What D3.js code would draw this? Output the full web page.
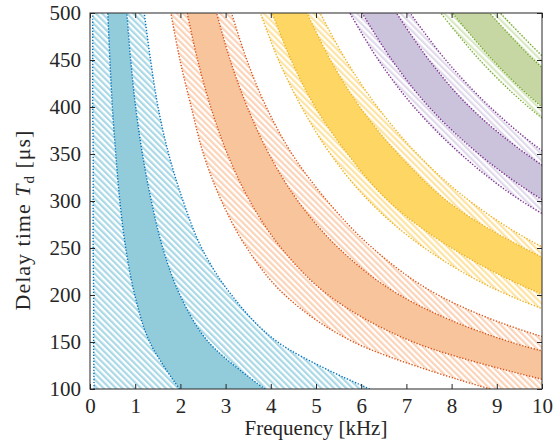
<!DOCTYPE html>
<html>
<head>
<meta charset="utf-8">
<script src="https://cdn.jsdelivr.net/npm/d3@7"></script>
<style>
  body { margin: 0; background: #fff; }
  svg text { font-family: "Liberation Serif", "DejaVu Serif", serif; fill: #262626; }
</style>
</head>
<body>
<div id="chart"></div>
<script>
const tdLevels = [100, 150, 200, 250, 300, 350, 400, 450, 500];

// each band: outer hatch edge, fill edge, fill edge, outer hatch edge (frequency in kHz per tdLevel)
const blueBand = [
    [0.09, 0.08, 0.08, 0.07, 0.07, 0.07, 0.06, 0.06, 0.06],
    [1.98, 1.32, 0.99, 0.79, 0.66, 0.57, 0.495, 0.44, 0.395],
    [3.87, 2.62, 1.99, 1.61, 1.357, 1.16, 1.01, 0.90, 0.815],
    [6.19, 4.15, 3.13, 2.47, 2.06, 1.74, 1.505, 1.34, 1.20]
];
const orangeBand = [
    [8.85, 5.83, 4.31, 3.47, 2.91, 2.51, 2.24, 1.99, 1.79],
    [10.9, 7.15, 5.27, 4.23, 3.535, 3.04, 2.67, 2.38, 2.15],
    [14.0, 9.3, 6.85, 5.5, 4.6, 3.96, 3.48, 3.10, 2.80],
    [15.6, 10.4, 7.7, 6.25, 5.25, 4.47, 3.90, 3.47, 3.13]
];
const yellowBand = [
    [18.6, 12.5, 9.25, 7.4, 6.17, 5.32, 4.68, 4.17, 3.77],
    [20.0, 13.4, 10.05, 8.0, 6.6, 5.7, 4.98, 4.45, 4.03],
    [24.0, 16.0, 12.0, 9.6, 7.9, 6.82, 5.97, 5.32, 4.80],
    [25.3, 16.9, 12.65, 10.05, 8.4, 7.24, 6.36, 5.66, 5.09]
];
const purpleBand = [
    [28.7, 19.1, 14.35, 11.5, 9.55, 8.2, 7.17, 6.38, 5.75],
    [30.1, 20.0, 15.05, 12.0, 10.05, 8.6, 7.5, 6.68, 6.02],
    [33.8, 22.5, 16.9, 13.5, 11.3, 9.65, 8.4, 7.5, 6.78],
    [35.4, 23.6, 17.7, 14.2, 11.8, 10.1, 8.85, 7.87, 7.08]
];
const greenBand = [
    [38.8, 25.9, 19.4, 15.5, 12.9, 11.1, 9.7, 8.62, 7.76],
    [40.1, 26.7, 20.0, 16.0, 13.4, 11.5, 10.0, 8.91, 8.02],
    [44.2, 29.5, 22.1, 17.7, 14.7, 12.6, 11.05, 9.82, 8.84],
    [45.4, 30.3, 22.7, 18.2, 15.1, 13.0, 11.35, 10.1, 9.08]
];

const xTicks = [0, 1, 2, 3, 4, 5, 6, 7, 8, 9, 10];
const yTicks = [100, 150, 200, 250, 300, 350, 400, 450, 500];

const bands = [
    { name: 'blue', edges: blueBand, line: '#0072bd', fill: '#92ccdb', hatch: '#a9d8e6' },
    { name: 'orange', edges: orangeBand, line: '#d95319', fill: '#f7c49b', hatch: '#fad3b8' },
    { name: 'yellow', edges: yellowBand, line: '#edb120', fill: '#fdd663', hatch: '#fde4a3' },
    { name: 'purple', edges: purpleBand, line: '#7e2f8e', fill: '#cbc3dc', hatch: '#e0daeb' },
    { name: 'green', edges: greenBand, line: '#77ac30', fill: '#c6d7a4', hatch: '#dae8c6' }
];

const w = 553, h = 441;
const pLeft = 90, pRight = 542, pTop = 13, pBottom = 389;
const serif = '"Liberation Serif", "DejaVu Serif", serif';

const svg = d3.select('#chart').append('svg').attr('width', w).attr('height', h);
const xScale = d3.scaleLinear().domain([0, 10]).range([pLeft, pRight]);
const yScale = d3.scaleLinear().domain([100, 500]).range([pBottom, pTop]);

const defs = svg.append('defs');
defs.append('clipPath').attr('id', 'plot-clip')
    .append('rect').attr('x', pLeft).attr('y', pTop).attr('width', pRight - pLeft).attr('height', pBottom - pTop);

const hatchStep = 4.4;
bands.forEach(b => {
    const p = defs.append('pattern')
        .attr('id', 'hatch-' + b.name)
        .attr('patternUnits', 'userSpaceOnUse')
        .attr('width', hatchStep).attr('height', hatchStep)
        .attr('patternTransform', 'rotate(-45)');
    p.append('rect').attr('width', hatchStep).attr('height', hatchStep).attr('fill', '#fff');
    p.append('rect').attr('width', hatchStep / 2).attr('height', hatchStep).attr('fill', b.hatch);
});

const plot = svg.append('g').attr('clip-path', 'url(#plot-clip)');

const curve = d3.curveCatmullRom.alpha(0.5);
const area = (a, c) => d3.area()
    .curve(curve)
    .y((d, i) => yScale(tdLevels[i]))
    .x0((d, i) => xScale(a[i]))
    .x1((d, i) => xScale(c[i]))(tdLevels);
const line = d3.line()
    .curve(curve)
    .x(d => xScale(d[0]))
    .y(d => yScale(d[1]));

bands.forEach(b => {
    const e = b.edges;
    plot.append('path').attr('d', area(e[0], e[1])).attr('fill', 'url(#hatch-' + b.name + ')');
    plot.append('path').attr('d', area(e[2], e[3])).attr('fill', 'url(#hatch-' + b.name + ')');
    plot.append('path').attr('d', area(e[1], e[2])).attr('fill', b.fill);
});

bands.forEach(b => {
    b.edges.forEach(edge => {
        plot.append('path')
            .attr('d', line(edge.map((f, i) => [f, tdLevels[i]])))
            .attr('fill', 'none')
            .attr('stroke', b.line)
            .attr('stroke-width', 1.4)
            .attr('stroke-dasharray', '1.3 1.7');
    });
});

// axes box with inward ticks on all sides
const xAxis = d3.axisBottom(xScale).tickValues(xTicks).tickSizeInner(-5).tickSizeOuter(0).tickPadding(9).tickFormat(d3.format('d'));
const yAxis = d3.axisLeft(yScale).tickValues(yTicks).tickSizeInner(-5).tickSizeOuter(0).tickPadding(9);
const xTop = d3.axisTop(xScale).tickValues(xTicks).tickSizeInner(-5).tickSizeOuter(0).tickFormat('');
const yRight = d3.axisRight(yScale).tickValues(yTicks).tickSizeInner(-5).tickSizeOuter(0).tickFormat('');

const styleAxis = g => {
    g.attr('font-family', null);
    g.select('.domain').remove();
    g.selectAll('line').attr('stroke', '#262626');
    g.selectAll('text').style('font-size', '21px').style('font-family', serif).attr('fill', '#262626');
};
svg.append('g').attr('transform', 'translate(0,' + pBottom + ')').call(xAxis).call(styleAxis);
svg.append('g').attr('transform', 'translate(' + pLeft + ',0)').call(yAxis).call(styleAxis);
svg.append('g').attr('transform', 'translate(0,' + pTop + ')').call(xTop).call(styleAxis);
svg.append('g').attr('transform', 'translate(' + pRight + ',0)').call(yRight).call(styleAxis);

svg.append('rect')
    .attr('x', pLeft).attr('y', pTop).attr('width', pRight - pLeft).attr('height', pBottom - pTop)
    .attr('fill', 'none').attr('stroke', '#262626').attr('stroke-width', 1);

svg.append('text')
    .attr('x', (pLeft + pRight) / 2).attr('y', 435)
    .attr('text-anchor', 'middle')
    .style('font-size', '21px').style('font-family', serif)
    .text('Frequency [kHz]');

const yl = svg.append('text')
    .attr('transform', 'translate(30,220) rotate(-90)')
    .attr('text-anchor', 'middle')
    .style('font-size', '22px').style('font-family', serif)
    .style('letter-spacing', '1px');
yl.append('tspan').text('Delay time ');
yl.append('tspan').attr('font-style', 'italic').text('T');
yl.append('tspan').style('font-size', '15px').attr('dy', 4).text('d');
yl.append('tspan').attr('dy', -4).text(' [μs]');
</script>
</body>
</html>
